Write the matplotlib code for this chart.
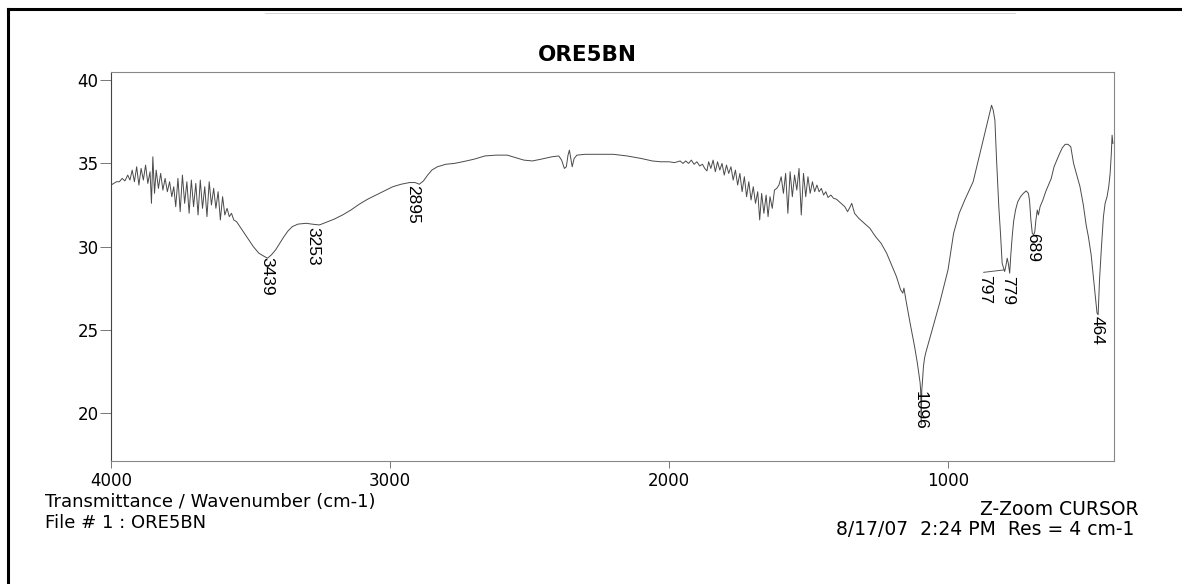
import matplotlib
matplotlib.use("Agg")
import matplotlib.pyplot as plt
from matplotlib.lines import Line2D

# IR spectrum (wavenumber cm-1, %T)
wavenumber = [
    4000, 3990, 3980, 3970, 3960, 3950, 3940, 3932, 3924, 3916, 3908, 3900,
    3892, 3884, 3876, 3868, 3860, 3855, 3850, 3844, 3838, 3830, 3822, 3814,
    3806, 3798, 3790, 3782, 3775, 3768, 3760, 3752, 3744, 3736, 3728, 3720,
    3712, 3704, 3696, 3688, 3680, 3672, 3664, 3656, 3648, 3640, 3632, 3624,
    3616, 3608, 3600, 3592, 3584, 3576, 3568, 3560, 3550,
    3530, 3510, 3490, 3470, 3450, 3439, 3425, 3410, 3395, 3380, 3365, 3350,
    3330, 3300, 3280, 3253, 3230, 3200, 3170, 3140, 3110, 3080, 3050, 3020,
    2990, 2960, 2930, 2910, 2895, 2880, 2865, 2850, 2830, 2800, 2770, 2740,
    2700, 2660, 2620, 2580, 2550, 2520, 2490, 2460, 2420, 2395, 2385, 2375,
    2368, 2362, 2357, 2352, 2347, 2340, 2330, 2300, 2250, 2200, 2150, 2100,
    2060, 2030, 2000, 1980,
    1960, 1950, 1940, 1930, 1920, 1910, 1900, 1890, 1880, 1872, 1864, 1858,
    1850, 1842, 1834, 1826, 1818, 1810, 1802, 1794, 1786, 1778, 1770, 1762,
    1754, 1746, 1738, 1730, 1722, 1714, 1706, 1698, 1690, 1682, 1675, 1668,
    1660, 1652, 1645, 1638, 1630, 1622, 1614, 1606, 1598, 1590, 1582, 1574,
    1566, 1558, 1550, 1542, 1534, 1526, 1518, 1510, 1502, 1494, 1486, 1478,
    1470, 1462, 1454, 1446, 1438, 1430, 1420, 1410, 1400, 1390, 1380, 1370,
    1360, 1352, 1345, 1335, 1320, 1300, 1280, 1260, 1240, 1220, 1200, 1185,
    1170, 1162, 1158, 1150, 1136, 1120, 1110, 1100, 1098, 1096, 1094, 1092,
    1088, 1084, 1080, 1070, 1050, 1030, 1000, 980, 960, 940, 910, 880,
    860, 850, 844, 838, 832, 826, 818, 812, 806, 800, 797, 792,
    788, 784, 779, 775, 770, 765, 758, 750, 740, 730, 720, 712,
    708, 703, 698, 693, 689, 685, 680, 676, 670, 660, 650, 640,
    630, 620, 610, 600, 590, 580, 570, 560, 550, 540, 527, 515,
    505, 497, 487, 479, 472, 466, 462, 457, 450, 443, 437, 430,
    424, 419, 415, 412, 409,
]
transmittance = [
    33.7, 33.8, 33.9, 33.9, 34.1, 33.95, 34.3, 34.0, 34.6, 33.9, 34.8, 33.7,
    34.7, 34.0, 34.9, 33.8, 34.5, 32.6, 35.4, 33.2, 34.6, 33.5, 34.4, 33.4,
    34.1, 33.3, 33.9, 33.0, 33.6, 32.4, 34.1, 32.1, 34.3, 32.6, 33.9, 32.0,
    34.0, 32.4, 33.8, 31.9, 34.0, 32.3, 33.6, 31.8, 33.9, 32.5, 33.5, 32.3,
    33.3, 31.6, 33.0, 31.9, 32.3, 31.8, 32.0, 31.6, 31.5,
    31.0, 30.5, 30.0, 29.6, 29.4, 29.3, 29.5, 29.8, 30.2, 30.6, 30.95, 31.2,
    31.35, 31.4, 31.35, 31.3, 31.45, 31.65, 31.9, 32.2, 32.55, 32.85, 33.1, 33.35,
    33.6, 33.75, 33.85, 33.85, 33.75, 33.95, 34.3, 34.6, 34.8, 34.95, 35.0, 35.1,
    35.25, 35.45, 35.5, 35.5, 35.35, 35.2, 35.15, 35.25, 35.4, 35.45, 35.2, 34.7,
    34.8, 35.5, 35.8, 35.3, 34.8, 35.3, 35.5, 35.55, 35.55, 35.55, 35.45, 35.3,
    35.15, 35.1, 35.1, 35.05,
    35.15, 35.0, 35.15, 35.0, 35.2, 34.95, 35.1, 34.85, 34.95, 34.7, 34.55, 35.1,
    34.7, 35.2, 34.5, 35.1, 34.6, 35.0, 34.3, 34.9, 34.4, 34.8, 34.0, 34.6,
    33.7, 34.4, 33.3, 34.2, 33.0, 33.9, 32.8, 33.6, 32.6, 33.3, 31.6, 33.2,
    32.0, 33.1, 31.8, 33.0, 32.3, 33.4, 33.5, 33.7, 34.2, 33.2, 34.4, 32.0,
    34.5, 33.0, 34.3, 33.4, 34.7, 31.9, 34.4, 33.0, 34.2, 33.2, 33.9, 33.3,
    33.7, 33.3, 33.5, 33.1, 33.3, 32.95, 33.1, 32.9, 32.85, 32.7, 32.55, 32.4,
    32.1, 32.35, 32.6, 32.0, 31.7, 31.4, 31.1, 30.6, 30.2, 29.6, 28.8, 28.2,
    27.4, 27.2, 27.5, 26.7, 25.4, 24.0, 23.0, 21.8, 21.3, 19.3, 21.4, 21.8,
    22.8, 23.3, 23.6, 24.2, 25.4, 26.6, 28.6, 30.8, 32.0, 32.8, 33.9, 36.0,
    37.4, 38.1, 38.5, 38.2, 37.6, 35.2, 32.4, 30.8, 29.0, 28.65, 28.5, 28.9,
    29.3, 29.0, 28.4, 29.5, 30.6, 31.5, 32.2, 32.7, 33.0, 33.2, 33.35, 33.2,
    32.8, 31.6, 30.8, 30.7, 30.9, 31.6, 32.2, 31.9, 32.4, 32.8, 33.3, 33.7,
    34.1, 34.8, 35.2, 35.6, 35.95, 36.15, 36.15, 36.0, 35.0, 34.4, 33.6, 32.5,
    31.3, 30.6, 29.5, 28.2, 27.0, 26.0, 25.9, 28.0, 30.0, 31.8, 32.6, 33.0,
    33.6, 34.4, 35.5, 36.7, 36.2,
]

# peak labels: text, label x, label top y
peak_labels = ["3439", "3253", "2895", "1096", "797", "779", "689", "464"]
peak_x = [3442, 3276, 2918, 1100, 868, 785, 695, 466]
peak_y = [29.4, 31.2, 33.7, 21.3, 28.3, 28.2, 30.8, 25.8]

fig = plt.figure(figsize=(11.82, 5.84), dpi=100)
ax = fig.add_axes([0.0939, 0.2106, 0.8486, 0.6661])

ax.plot(wavenumber, transmittance, color="#4a4a4a", lw=0.7)

ax.set_xlim(4000, 405)
ax.set_ylim(17.1, 40.5)
ax.set_xticks([4000, 3000, 2000, 1000])
ax.set_yticks([20, 25, 30, 35, 40])
ax.tick_params(axis="y", length=8, width=0.7, color="#777777", pad=1, labelsize=12)
ax.tick_params(axis="x", length=5, width=0.7, color="#777777", pad=3, labelsize=12)
for s in ax.spines.values():
    s.set_color("#888888")
    s.set_linewidth(0.8)
ax.spines["left"].set_color("#444444")

for lab, x, y in zip(peak_labels, peak_x, peak_y):
    ax.text(x, y, lab, rotation=-90, ha="center", va="top", fontsize=12.5,
            family=["Liberation Sans Narrow", "Liberation Sans", "DejaVu Sans"])
# leader line for the 797 label
ax.plot([872, 797], [28.45, 28.6], color="#555555", lw=0.7)

fig.text(0.497, 0.906, "ORE5BN", ha="center", va="center", fontsize=15.5, fontweight="bold")

fig.text(0.038, 0.141, "Transmittance / Wavenumber (cm-1)", ha="left", va="center", fontsize=13)
fig.text(0.038, 0.105, "File # 1 : ORE5BN", ha="left", va="center", fontsize=13)
fig.text(0.963, 0.128, "Z-Zoom CURSOR", ha="right", va="center", fontsize=13.5)
fig.text(0.960, 0.094, "8/17/07  2:24 PM  Res = 4 cm-1", ha="right", va="center",
         fontsize=13.5)

# page border of the scan (top and left edges only)
fig.add_artist(Line2D([0.0068, 1.0], [1 - 9 / 584, 1 - 9 / 584], color="black", lw=2.2))
fig.add_artist(Line2D([0.0068, 0.0068], [0.0, 1 - 9 / 584], color="black", lw=2.2))
fig.add_artist(Line2D([265 / 1182, 1015 / 1182], [1 - 13 / 584, 1 - 13 / 584],
                      color="#cccccc", lw=0.6))

fig.savefig("out.png", dpi=100)
